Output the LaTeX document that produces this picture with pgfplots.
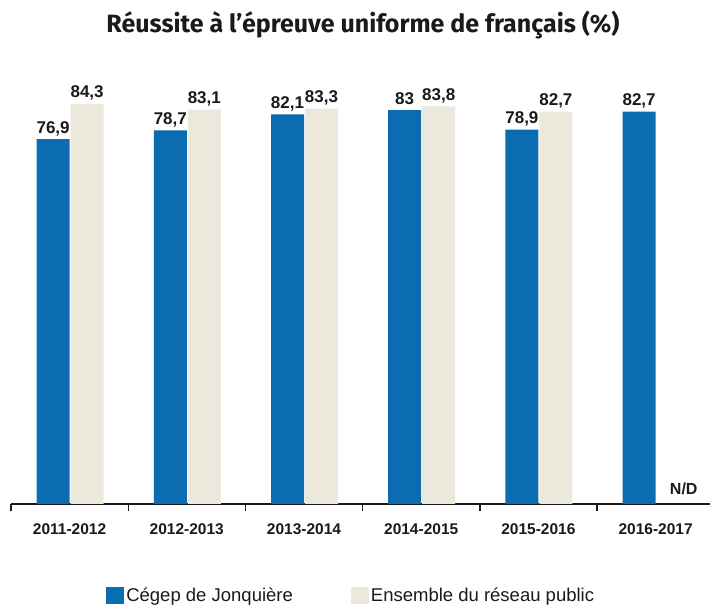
\documentclass[border=0pt]{standalone}
\usepackage{pgfplots}
\pgfplotsset{compat=1.18}
\usepackage{fontspec}
\setmainfont{Liberation Sans}
\newfontfamily\titlefont{Fira Sans}
\definecolor{cblue}{HTML}{0C6CB2}
\definecolor{cbeige}{HTML}{ECE8DC}
\definecolor{ctext}{HTML}{1A1A1A}
\begin{document}
\begin{tikzpicture}
\useasboundingbox (0,0) rectangle (710pt,608pt);
\node[font=\titlefont\bfseries\fontsize{25}{29}\selectfont, text=ctext] at (363pt,583pt) {Réussite à l’épreuve uniforme de français (\%)};
\begin{axis}[
  at={(11pt,104pt)}, anchor=south west,
  scale only axis, width=703.2pt, height=474.6pt,
  xmin=-0.5, xmax=5.5, ymin=0, ymax=100,
  axis x line=bottom, axis y line=none,
  x axis line style={-, line width=1.6pt, ctext},
  xtick={0,1,2,3,4,5},
  xticklabels={2011-2012,2012-2013,2013-2014,2014-2015,2015-2016,2016-2017},
  major x tick style={draw=none},
  minor xtick={-0.5,0.5,1.5,2.5,3.5,4.5,5.5},
  minor x tick style={line width=1.4pt, ctext},
  minor tick length=7pt, tick align=outside,
  x tick label style={font=\bfseries\fontsize{15.5}{18}\selectfont, text=ctext, yshift=-12pt},
  ybar, bar width=33pt,
  /pgf/number format/assume math mode=true,
  /pgf/number format/use comma, /pgf/number format/fixed, /pgf/number format/precision=1,
  nodes near coords,
  nodes near coords style={font=\bfseries\fontsize{17}{19}\selectfont, text=ctext, anchor=base, yshift=6pt, inner sep=0pt},
  legend style={at={(0.131,-0.193)}, anchor=west, draw=none, fill=none, legend columns=2,
    font=\fontsize{18.5}{21}\selectfont, text=ctext,
    /tikz/every even column/.append style={column sep=56pt}},
  legend image code/.code={\fill[#1] (0pt,-8.5pt) rectangle (18pt,8.5pt);},
  clip=false,
]
\addplot[fill=cblue, draw=none, bar shift=-16.5pt] coordinates {(0,76.9) (1,78.7) (2,82.1) (3,83) (4,78.9) (5,82.7)};
\addlegendentry{Cégep de Jonquière}
\addplot[fill=cbeige, draw=none, bar shift=17.5pt] coordinates {(0,84.3) (1,83.1) (2,83.3) (3,83.8) (4,82.7)};
\addlegendentry{Ensemble du réseau public}
\node[font=\bfseries\fontsize{16}{19}\selectfont, text=ctext, anchor=base] at (axis cs:5.24,1.9) {N/D};
\end{axis}
\end{tikzpicture}
\end{document}
